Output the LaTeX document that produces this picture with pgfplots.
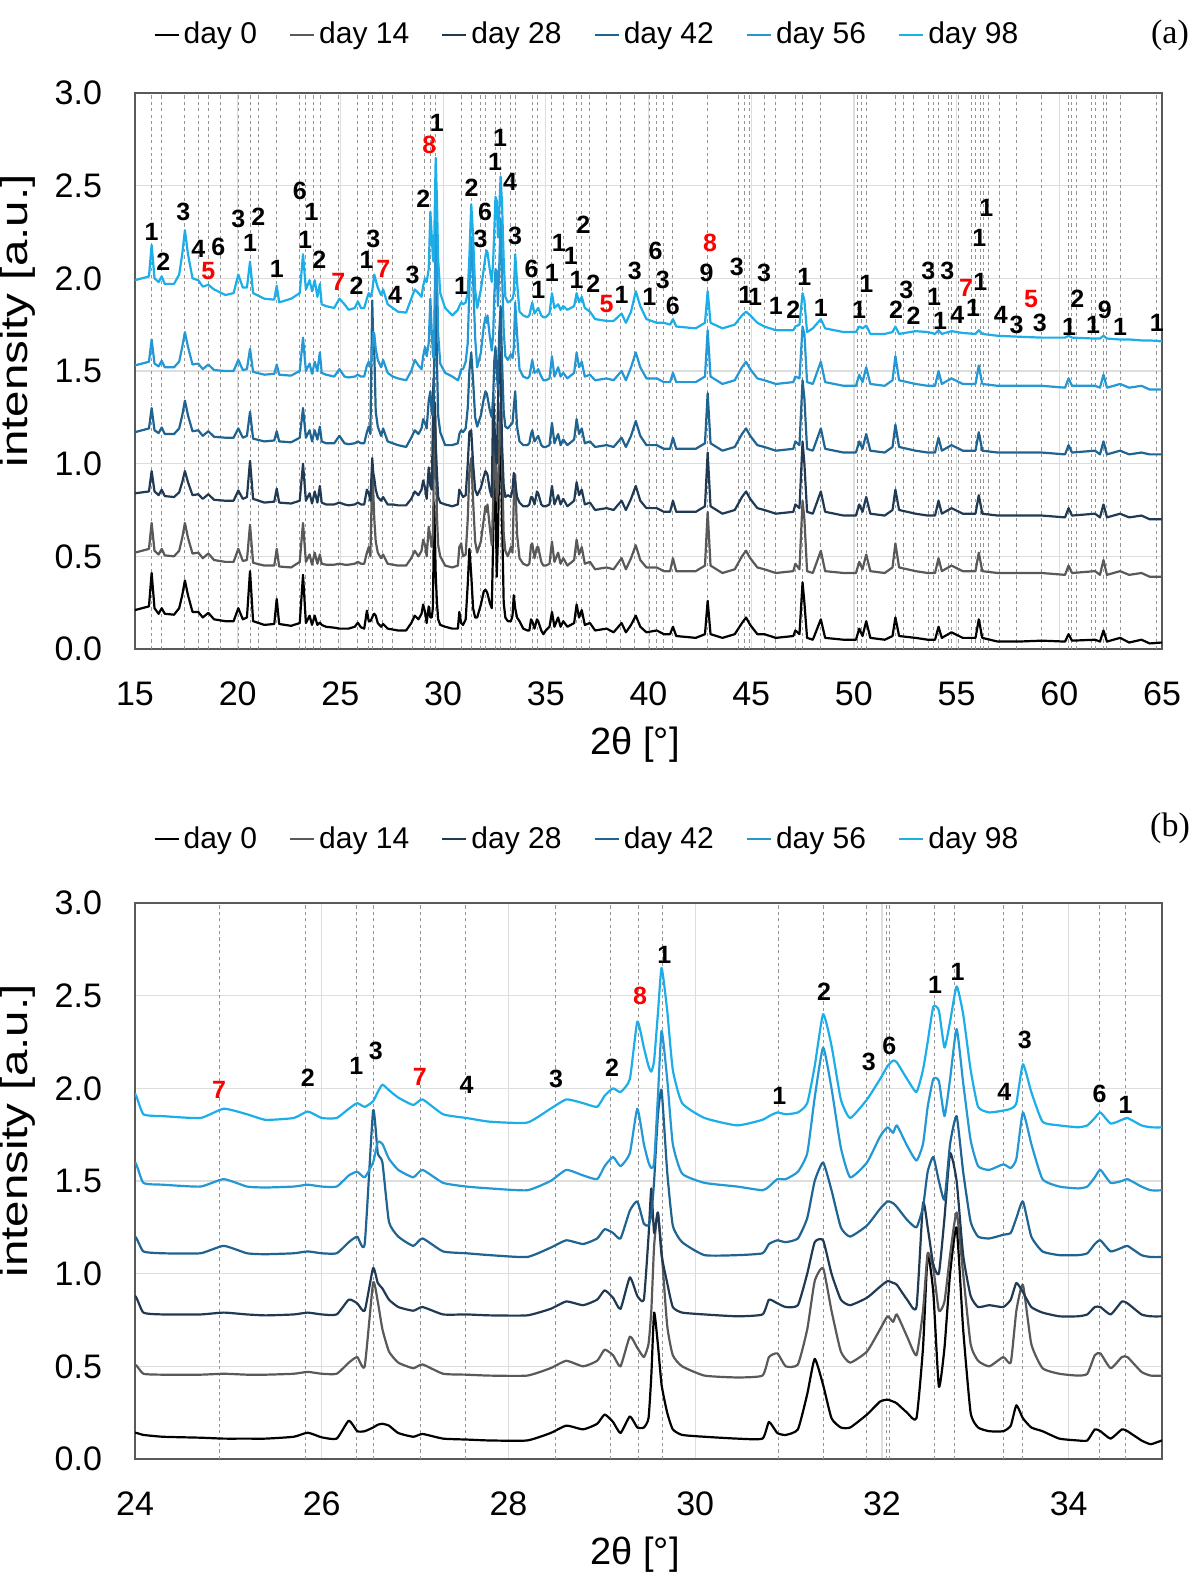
\documentclass[border=0pt]{standalone}
\usepackage{fontspec}
\setmainfont{Liberation Sans}
\newfontfamily\seriffont{Liberation Serif}
\usepackage{graphicx}
\usepackage{pgfplots}
\usepackage{pgfplotstable}
\pgfplotsset{compat=1.18}
\definecolor{c0}{HTML}{000000}
\definecolor{c14}{HTML}{595959}
\definecolor{c28}{HTML}{203A54}
\definecolor{c42}{HTML}{1F6391}
\definecolor{c56}{HTML}{2398D4}
\definecolor{c98}{HTML}{1CAEE8}
\definecolor{pkred}{HTML}{FF0000}

\pgfplotstableread{
x d0 d14 d28 d42 d56 d98
15.00 0.21 0.52 0.84 1.17 1.53 1.99
15.68 0.23 0.54 0.85 1.19 1.55 2.01
15.81 0.41 0.68 0.96 1.30 1.67 2.18
15.95 0.22 0.53 0.85 1.18 1.54 2.00
16.15 0.19 0.51 0.83 1.165 1.525 1.98
16.30 0.22 0.54 0.86 1.195 1.555 2.01
16.45 0.19 0.505 0.825 1.16 1.52 1.97
16.90 0.185 0.50 0.82 1.16 1.52 1.97
17.15 0.22 0.53 0.845 1.19 1.55 2.02
17.30 0.29 0.60 0.90 1.26 1.63 2.13
17.43 0.37 0.68 0.96 1.34 1.71 2.26
17.58 0.29 0.60 0.90 1.26 1.63 2.13
17.80 0.20 0.515 0.83 1.175 1.535 2.00
18.08 0.20 0.52 0.835 1.18 1.54 1.99
18.30 0.17 0.49 0.81 1.15 1.51 1.955
18.57 0.195 0.515 0.835 1.175 1.535 1.965
18.85 0.16 0.48 0.805 1.145 1.505 1.94
19.40 0.15 0.47 0.80 1.14 1.50 1.91
19.80 0.15 0.47 0.80 1.14 1.50 1.92
20.03 0.22 0.54 0.855 1.19 1.56 2.02
20.25 0.16 0.475 0.81 1.14 1.505 1.95
20.45 0.17 0.48 0.82 1.15 1.51 1.95
20.60 0.42 0.67 1.015 1.28 1.62 2.09
20.75 0.15 0.465 0.81 1.135 1.495 1.92
21.30 0.13 0.45 0.79 1.12 1.48 1.89
21.78 0.135 0.45 0.795 1.125 1.485 1.885
21.90 0.27 0.54 0.865 1.175 1.535 1.96
22.02 0.135 0.445 0.79 1.12 1.48 1.87
22.60 0.125 0.44 0.785 1.115 1.475 1.89
23.02 0.14 0.47 0.80 1.14 1.50 1.92
23.18 0.40 0.68 1.00 1.30 1.68 2.13
23.32 0.14 0.47 0.80 1.14 1.50 1.94
23.50 0.18 0.51 0.84 1.18 1.54 1.99
23.62 0.13 0.455 0.785 1.12 1.485 1.93
23.75 0.18 0.52 0.85 1.18 1.55 1.99
23.88 0.13 0.46 0.79 1.13 1.50 1.90
24.00 0.142 0.51 0.88 1.20 1.60 1.97
24.09 0.13 0.46 0.79 1.12 1.49 1.86
24.30 0.12 0.455 0.78 1.11 1.48 1.85
24.70 0.115 0.455 0.78 1.11 1.47 1.84
24.95 0.11 0.46 0.79 1.15 1.51 1.89
25.20 0.11 0.455 0.78 1.11 1.47 1.86
25.40 0.11 0.455 0.775 1.105 1.465 1.83
25.70 0.12 0.46 0.78 1.11 1.47 1.84
25.85 0.142 0.47 0.79 1.12 1.48 1.875
26.00 0.117 0.46 0.78 1.11 1.47 1.84
26.16 0.11 0.46 0.78 1.11 1.47 1.84
26.29 0.207 0.52 0.86 1.17 1.53 1.89
26.38 0.15 0.55 0.84 1.20 1.55 1.92
26.46 0.15 0.50 0.80 1.16 1.52 1.90
26.55 0.17 0.95 1.03 1.88 1.60 1.93
26.60 0.185 0.85 0.95 1.65 1.71 1.98
26.65 0.19 0.70 0.92 1.60 1.70 2.02
26.72 0.18 0.58 0.86 1.28 1.62 1.99
26.82 0.14 0.52 0.82 1.20 1.56 1.95
26.98 0.12 0.49 0.80 1.15 1.52 1.91
27.08 0.135 0.51 0.82 1.19 1.56 1.94
27.30 0.11 0.46 0.78 1.12 1.49 1.86
27.55 0.105 0.455 0.78 1.11 1.47 1.84
27.80 0.10 0.45 0.775 1.10 1.46 1.82
28.20 0.10 0.45 0.775 1.09 1.45 1.815
28.45 0.14 0.49 0.81 1.14 1.50 1.89
28.62 0.18 0.53 0.85 1.18 1.56 1.94
28.80 0.16 0.50 0.83 1.16 1.53 1.92
28.95 0.19 0.53 0.86 1.19 1.51 1.90
29.03 0.24 0.59 0.91 1.24 1.58 1.96
29.12 0.20 0.56 0.87 1.22 1.63 2.00
29.20 0.14 0.50 0.81 1.19 1.58 1.98
29.30 0.23 0.66 0.98 1.34 1.65 2.05
29.38 0.17 0.60 0.88 1.39 1.89 2.36
29.45 0.17 0.55 0.86 1.27 1.70 2.22
29.50 0.22 0.62 1.20 1.26 1.60 2.12
29.53 0.45 0.80 1.46 1.32 1.57 2.09
29.56 0.79 1.15 1.22 1.50 1.60 2.15
29.60 0.62 1.33 1.33 1.85 1.95 2.40
29.64 0.40 1.12 1.10 1.99 2.31 2.65
29.70 0.25 0.72 0.95 1.55 2.05 2.42
29.76 0.16 0.56 0.82 1.26 1.70 2.10
29.86 0.13 0.50 0.79 1.17 1.54 1.92
30.10 0.12 0.45 0.78 1.10 1.49 1.84
30.45 0.11 0.44 0.77 1.10 1.47 1.80
30.72 0.11 0.45 0.78 1.11 1.45 1.83
30.79 0.20 0.55 0.86 1.16 1.47 1.85
30.88 0.14 0.57 0.84 1.18 1.51 1.87
30.97 0.13 0.50 0.82 1.17 1.51 1.86
31.10 0.16 0.51 0.83 1.19 1.55 1.87
31.20 0.35 0.70 1.00 1.30 1.65 1.92
31.28 0.54 0.96 1.17 1.50 1.95 2.12
31.37 0.40 1.03 1.18 1.60 2.22 2.40
31.46 0.22 0.80 1.00 1.45 2.00 2.23
31.56 0.17 0.58 0.86 1.25 1.68 1.94
31.66 0.17 0.52 0.83 1.20 1.52 1.84
31.84 0.24 0.58 0.87 1.26 1.60 1.94
31.98 0.31 0.70 0.93 1.35 1.74 2.05
32.06 0.32 0.77 0.96 1.39 1.79 2.12
32.12 0.31 0.74 0.95 1.38 1.76 2.15
32.16 0.30 0.78 0.94 1.36 1.80 2.14
32.27 0.25 0.66 0.86 1.29 1.69 2.05
32.37 0.22 0.56 0.82 1.25 1.61 1.98
32.44 0.60 0.80 1.38 1.36 1.70 2.10
32.49 1.10 1.11 1.25 1.55 1.90 2.25
32.55 0.90 1.03 1.05 1.63 2.05 2.44
32.61 0.39 0.80 1.00 1.50 2.04 2.42
32.67 0.60 0.85 1.30 1.40 1.85 2.22
32.73 1.00 1.10 1.65 1.70 2.05 2.36
32.80 1.25 1.33 1.50 1.85 2.32 2.55
32.87 0.70 1.00 1.10 1.55 2.03 2.40
32.95 0.25 0.62 0.88 1.28 1.72 2.10
33.03 0.17 0.53 0.82 1.20 1.58 1.90
33.15 0.15 0.50 0.83 1.19 1.56 1.87
33.30 0.15 0.55 0.82 1.21 1.59 1.88
33.38 0.18 0.52 0.86 1.22 1.57 1.89
33.44 0.29 0.80 0.95 1.30 1.62 1.92
33.51 0.22 0.94 0.90 1.39 1.87 2.13
33.60 0.17 0.62 0.82 1.20 1.70 1.98
33.72 0.15 0.49 0.79 1.12 1.51 1.82
33.90 0.11 0.46 0.77 1.10 1.47 1.80
34.10 0.10 0.45 0.77 1.10 1.46 1.79
34.20 0.10 0.46 0.78 1.11 1.47 1.80
34.28 0.16 0.56 0.82 1.16 1.52 1.84
34.34 0.15 0.57 0.82 1.18 1.56 1.87
34.45 0.11 0.49 0.78 1.12 1.49 1.81
34.57 0.16 0.55 0.85 1.14 1.50 1.83
34.63 0.15 0.55 0.84 1.15 1.51 1.84
34.78 0.10 0.47 0.78 1.10 1.47 1.80
34.88 0.08 0.45 0.77 1.09 1.45 1.79
35.00 0.10 0.45 0.77 1.09 1.45 1.79
35.18 0.12 0.46 0.78 1.10 1.46 1.81
35.30 0.20 0.58 0.88 1.22 1.58 1.92
35.42 0.12 0.47 0.78 1.11 1.47 1.84
35.60 0.17 0.52 0.83 1.16 1.52 1.86
35.72 0.12 0.46 0.78 1.10 1.47 1.83
35.85 0.15 0.49 0.81 1.13 1.49 1.85
36.05 0.12 0.45 0.77 1.10 1.46 1.83
36.38 0.14 0.48 0.80 1.13 1.49 1.85
36.50 0.24 0.59 0.90 1.24 1.60 1.92
36.62 0.17 0.51 0.83 1.16 1.52 1.87
36.75 0.21 0.55 0.86 1.19 1.55 1.90
36.90 0.13 0.46 0.78 1.11 1.47 1.84
37.15 0.14 0.47 0.79 1.12 1.48 1.82
37.40 0.10 0.43 0.75 1.09 1.45 1.78
37.96 0.11 0.44 0.76 1.10 1.46 1.77
38.30 0.09 0.43 0.75 1.09 1.45 1.77
38.69 0.14 0.49 0.80 1.14 1.50 1.81
38.90 0.09 0.43 0.75 1.09 1.45 1.76
39.15 0.13 0.49 0.81 1.15 1.52 1.82
39.38 0.18 0.56 0.88 1.23 1.60 1.93
39.60 0.12 0.48 0.80 1.15 1.52 1.85
39.90 0.09 0.44 0.76 1.10 1.46 1.78
40.40 0.10 0.44 0.76 1.10 1.46 1.76
40.75 0.08 0.42 0.74 1.08 1.44 1.76
41.05 0.08 0.42 0.74 1.08 1.44 1.75
41.19 0.12 0.49 0.80 1.14 1.49 1.78
41.35 0.07 0.42 0.74 1.08 1.44 1.74
42.30 0.06 0.42 0.74 1.08 1.44 1.73
42.75 0.08 0.45 0.77 1.11 1.47 1.76
42.88 0.26 0.74 1.06 1.38 1.72 1.93
43.02 0.08 0.45 0.77 1.11 1.47 1.76
43.60 0.06 0.41 0.73 1.07 1.43 1.73
44.20 0.08 0.43 0.75 1.09 1.45 1.75
44.55 0.14 0.50 0.82 1.16 1.52 1.80
44.75 0.17 0.53 0.85 1.19 1.55 1.82
44.95 0.13 0.49 0.81 1.15 1.51 1.80
45.30 0.08 0.44 0.76 1.10 1.46 1.76
45.64 0.08 0.43 0.75 1.09 1.45 1.74
46.20 0.06 0.41 0.73 1.07 1.43 1.72
47.05 0.07 0.42 0.74 1.08 1.44 1.72
47.15 0.10 0.46 0.78 1.12 1.47 1.74
47.35 0.08 0.43 0.76 1.10 1.46 1.75
47.50 0.36 0.80 1.12 1.45 1.74 1.92
47.59 0.25 0.70 1.00 1.35 1.70 1.88
47.72 0.06 0.42 0.74 1.08 1.44 1.71
48.00 0.05 0.41 0.73 1.07 1.43 1.73
48.39 0.16 0.53 0.85 1.19 1.55 1.78
48.60 0.06 0.42 0.74 1.08 1.44 1.73
49.50 0.05 0.41 0.72 1.06 1.42 1.71
50.10 0.05 0.41 0.72 1.06 1.42 1.71
50.26 0.11 0.47 0.78 1.12 1.48 1.74
50.42 0.07 0.43 0.74 1.08 1.44 1.73
50.60 0.15 0.51 0.82 1.16 1.52 1.745
50.80 0.06 0.42 0.73 1.07 1.43 1.70
51.50 0.05 0.41 0.72 1.06 1.42 1.70
51.88 0.07 0.44 0.75 1.09 1.45 1.71
52.02 0.17 0.57 0.86 1.21 1.58 1.74
52.20 0.07 0.44 0.75 1.09 1.45 1.70
53.00 0.06 0.42 0.73 1.07 1.43 1.715
53.60 0.05 0.41 0.72 1.06 1.42 1.71
53.95 0.05 0.41 0.72 1.06 1.42 1.70
54.12 0.12 0.49 0.80 1.14 1.50 1.72
54.28 0.06 0.42 0.73 1.07 1.43 1.70
54.75 0.09 0.45 0.76 1.10 1.46 1.715
55.30 0.06 0.42 0.73 1.07 1.43 1.705
55.92 0.06 0.42 0.73 1.07 1.43 1.70
56.08 0.16 0.52 0.83 1.17 1.53 1.72
56.25 0.06 0.42 0.73 1.07 1.43 1.70
57.00 0.04 0.41 0.72 1.06 1.42 1.69
58.00 0.04 0.41 0.72 1.06 1.42 1.685
59.15 0.045 0.41 0.72 1.06 1.42 1.68
60.28 0.04 0.40 0.71 1.05 1.41 1.68
60.45 0.08 0.45 0.76 1.10 1.46 1.69
60.62 0.045 0.41 0.72 1.06 1.42 1.68
61.74 0.05 0.42 0.73 1.07 1.42 1.675
61.98 0.04 0.40 0.71 1.05 1.41 1.675
62.15 0.10 0.48 0.78 1.12 1.48 1.69
62.32 0.04 0.40 0.71 1.05 1.41 1.675
62.96 0.06 0.42 0.73 1.07 1.43 1.67
63.40 0.035 0.40 0.71 1.05 1.41 1.67
64.00 0.05 0.41 0.72 1.06 1.42 1.665
64.40 0.03 0.39 0.70 1.05 1.40 1.665
65.00 0.035 0.39 0.70 1.05 1.40 1.66
}\xrd

\tikzset{
  pk/.style={font=\bfseries\fontsize{12.5}{14}\selectfont, text=black, inner sep=0pt},
  pr/.style={font=\bfseries\fontsize{12.5}{14}\selectfont, text=pkred, inner sep=0pt},
  tr/.style={line width=1.1pt, line join=round},
}

\pgfplotsset{
  xrdaxis/.style={
    width=513.5pt, height=278pt, scale only axis,
    ymin=0, ymax=3, ytick={0,0.5,1,1.5,2,2.5,3},
    grid=major,
    major grid style={draw=black!13, line width=0.6pt},
    axis line style={draw=black!65, line width=0.9pt},
    major tick length=0pt,
    clip mode=individual,
    /pgf/number format/assume math mode=true,
    tick label style={font=\fontsize{17}{20}\selectfont},
    yticklabel style={/pgf/number format/.cd, fixed, fixed zerofill, precision=1, /tikz/.cd, xshift=-13pt},
    xticklabel style={yshift=-13pt},
    xlabel={2θ [°]},
    ylabel={\scalebox{1.25}[1]{intensity [a.u.]}},
    every axis y label/.style={at={(axis description cs:0,0.59)}, xshift=-58.5pt, rotate=90, anchor=center, font=\fontsize{19}{22}\selectfont},
    every axis x label/.style={at={(axis description cs:0.487,0)}, yshift=-48pt, anchor=center, font=\fontsize{19}{22}\selectfont},
    legend columns=6,
    legend style={draw=none, fill=none, inner sep=0pt, font=\fontsize{15}{18}\selectfont,
      /tikz/every even column/.append style={column sep=14pt}},
    legend image code/.code={\draw[#1] (0pt,0pt) -- (12pt,0pt);},
    extra x tick style={grid=major, major grid style={draw=black!42, dash pattern=on 1.6pt off 1.6pt, line width=0.5pt}},
  },
}

\begin{document}
\begin{tikzpicture}
\useasboundingbox (-67.5pt,-469.5pt) rectangle (532.5pt,324.5pt);

\begin{axis}[xrdaxis,
  xmin=15, xmax=65, xtick={15,20,25,30,35,40,45,50,55,60,65},
  extra x ticks={15.81,16.30,17.43,18.08,18.57,19.14,20.03,20.60,21.00,21.90,23.03,23.28,23.68,24.01,24.91,25.83,26.37,26.55,27.06,27.54,28.50,29.09,29.39,29.65,30.89,31.37,31.84,32.05,32.08,32.56,32.78,33.30,33.51,34.33,34.61,35.29,35.85,36.50,36.75,37.15,37.96,38.62,39.33,40.04,40.39,40.75,41.19,42.88,44.39,44.66,44.93,45.64,46.17,47.15,47.50,48.39,50.17,50.35,50.61,52.03,52.41,52.89,53.62,53.87,54.11,54.60,54.76,55.09,55.73,55.90,56.14,56.30,56.54,57.11,57.93,59.14,60.44,60.60,60.85,61.58,61.74,62.14,62.31,62.96,64.74},
  extra x tick labels={},
  legend style={at={(0.441,1.105)}, anchor=center},
]
\addplot[tr, c0] table[x=x, y=d0] {\xrd};
\addlegendentry{day 0}
\addplot[tr, c14] table[x=x, y=d14] {\xrd};
\addlegendentry{day 14}
\addplot[tr, c28] table[x=x, y=d28] {\xrd};
\addlegendentry{day 28}
\addplot[tr, c42] table[x=x, y=d42] {\xrd};
\addlegendentry{day 42}
\addplot[tr, c56] table[x=x, y=d56] {\xrd};
\addlegendentry{day 56}
\addplot[tr, c98] table[x=x, y=d98] {\xrd};
\addlegendentry{day 98}

\node[pk] at (15.81,2.25) {1};
\node[pk] at (16.38,2.09) {2};
\node[pk] at (17.35,2.36) {3};
\node[pk] at (18.08,2.16) {4};
\node[pk] at (19.06,2.17) {6};
\node[pk] at (20.03,2.32) {3};
\node[pk] at (21.00,2.33) {2};
\node[pk] at (20.60,2.19) {1};
\node[pk] at (21.90,2.05) {1};
\node[pk] at (23.03,2.47) {6};
\node[pk] at (23.60,2.36) {1};
\node[pk] at (23.28,2.21) {1};
\node[pk] at (23.97,2.10) {2};
\node[pk] at (25.79,1.96) {2};
\node[pk] at (26.28,2.10) {1};
\node[pk] at (26.60,2.21) {3};
\node[pk] at (27.66,1.91) {4};
\node[pk] at (28.52,2.02) {3};
\node[pk] at (29.04,2.43) {2};
\node[pk] at (29.69,2.84) {1};
\node[pk] at (30.87,1.96) {1};
\node[pk] at (31.39,2.49) {2};
\node[pk] at (32.04,2.36) {6};
\node[pk] at (31.83,2.21) {3};
\node[pk] at (32.53,2.63) {1};
\node[pk] at (32.77,2.76) {1};
\node[pk] at (33.26,2.52) {4};
\node[pk] at (33.50,2.23) {3};
\node[pk] at (34.31,2.05) {6};
\node[pk] at (34.63,1.94) {1};
\node[pk] at (35.64,2.19) {1};
\node[pk] at (35.29,2.03) {1};
\node[pk] at (36.22,2.12) {1};
\node[pk] at (36.83,2.29) {2};
\node[pk] at (36.50,1.99) {1};
\node[pk] at (37.31,1.97) {2};
\node[pk] at (38.69,1.91) {1};
\node[pk] at (39.33,2.04) {3};
\node[pk] at (40.04,1.90) {1};
\node[pk] at (40.34,2.15) {6};
\node[pk] at (40.70,1.99) {3};
\node[pk] at (41.19,1.85) {6};
\node[pk] at (42.83,2.03) {9};
\node[pk] at (44.30,2.06) {3};
\node[pk] at (44.71,1.91) {1};
\node[pk] at (45.19,1.90) {1};
\node[pk] at (45.63,2.03) {3};
\node[pk] at (46.20,1.85) {1};
\node[pk] at (47.05,1.83) {2};
\node[pk] at (47.59,2.01) {1};
\node[pk] at (48.39,1.84) {1};
\node[pk] at (50.25,1.83) {1};
\node[pk] at (50.61,1.97) {1};
\node[pk] at (52.05,1.83) {2};
\node[pk] at (52.55,1.94) {3};
\node[pk] at (52.90,1.80) {2};
\node[pk] at (53.62,2.04) {3};
\node[pk] at (53.90,1.90) {1};
\node[pk] at (54.20,1.77) {1};
\node[pk] at (54.55,2.04) {3};
\node[pk] at (55.03,1.80) {4};
\node[pk] at (56.16,1.98) {1};
\node[pk] at (56.10,2.22) {1};
\node[pk] at (56.45,2.38) {1};
\node[pk] at (55.80,1.84) {1};
\node[pk] at (57.15,1.80) {4};
\node[pk] at (57.92,1.75) {3};
\node[pk] at (59.05,1.76) {3};
\node[pk] at (60.88,1.89) {2};
\node[pk] at (60.47,1.74) {1};
\node[pk] at (61.65,1.75) {1};
\node[pk] at (62.22,1.83) {9};
\node[pk] at (62.96,1.74) {1};
\node[pk] at (64.75,1.76) {1};
\node[pr] at (18.57,2.04) {5};
\node[pr] at (24.90,1.98) {7};
\node[pr] at (27.09,2.05) {7};
\node[pr] at (29.33,2.72) {8};
\node[pr] at (37.96,1.86) {5};
\node[pr] at (43.00,2.19) {8};
\node[pr] at (55.46,1.95) {7};
\node[pr] at (58.62,1.89) {5};
\end{axis}

\node[font=\seriffont\fontsize{17}{20}\selectfont] at (517.5pt,307pt) {(a)};

\begin{axis}[xrdaxis, at={(0pt,-405pt)}, anchor=south west,
  xmin=24, xmax=35, xtick={24,26,28,30,32,34},
  extra x ticks={24.91,25.83,26.37,26.55,27.06,27.54,28.50,29.09,29.39,29.65,30.89,31.37,31.84,32.05,32.08,32.56,32.78,33.30,33.51,34.33,34.61},
  extra x tick labels={},
  legend style={at={(0.441,1.115)}, anchor=center},
]
\addplot[tr, c0, smooth, tension=0.3] table[x=x, y=d0] {\xrd};
\addlegendentry{day 0}
\addplot[tr, c14, smooth, tension=0.3] table[x=x, y=d14] {\xrd};
\addlegendentry{day 14}
\addplot[tr, c28, smooth, tension=0.3] table[x=x, y=d28] {\xrd};
\addlegendentry{day 28}
\addplot[tr, c42, smooth, tension=0.3] table[x=x, y=d42] {\xrd};
\addlegendentry{day 42}
\addplot[tr, c56, smooth, tension=0.3] table[x=x, y=d56] {\xrd};
\addlegendentry{day 56}
\addplot[tr, c98, smooth, tension=0.3] table[x=x, y=d98] {\xrd};
\addlegendentry{day 98}

\node[pk] at (25.85,2.055) {2};
\node[pk] at (26.37,2.12) {1};
\node[pk] at (26.58,2.20) {3};
\node[pk] at (27.55,2.02) {4};
\node[pk] at (28.51,2.05) {3};
\node[pk] at (29.11,2.11) {2};
\node[pk] at (29.67,2.72) {1};
\node[pk] at (30.90,1.96) {1};
\node[pk] at (31.38,2.52) {2};
\node[pk] at (31.86,2.14) {3};
\node[pk] at (32.08,2.23) {6};
\node[pk] at (32.57,2.56) {1};
\node[pk] at (32.81,2.63) {1};
\node[pk] at (33.31,1.98) {4};
\node[pk] at (33.53,2.26) {3};
\node[pk] at (34.33,1.97) {6};
\node[pk] at (34.61,1.91) {1};
\node[pr] at (24.90,1.99) {7};
\node[pr] at (27.05,2.06) {7};
\node[pr] at (29.41,2.50) {8};
\end{axis}

\node[font=\seriffont\fontsize{17}{20}\selectfont] at (517.5pt,-89.5pt) {(b)};
\end{tikzpicture}
\end{document}
